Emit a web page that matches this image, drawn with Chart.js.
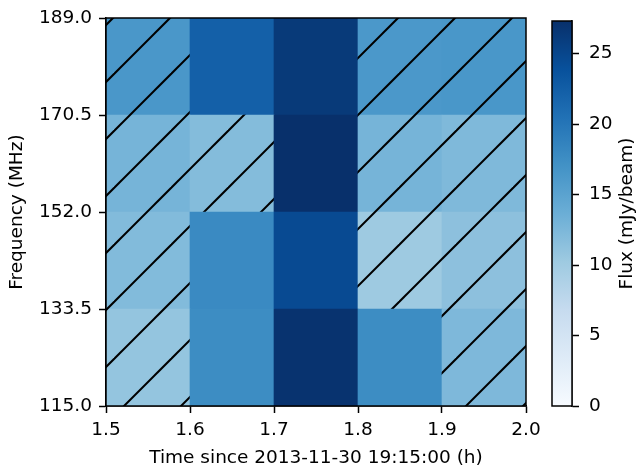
<!DOCTYPE html>
<html>
<head>
<meta charset="utf-8">
<script src="https://cdn.jsdelivr.net/npm/chart.js@4"></script>
<style>
  html, body { margin: 0; padding: 0; background: #fff; }
  #wrap { position: relative; width: 638px; height: 471px; }
  #wrap canvas { position: absolute; left: 0; top: 0; }
</style>
</head>
<body>
<div id="wrap">
  <canvas id="heatmap" width="638" height="471"></canvas>
  <canvas id="colorbar" width="638" height="471"></canvas>
</div>
<script>
// bin edges
var timeEdges = [1.5, 1.6, 1.7, 1.8, 1.9, 2.0];
var freqEdges = [115.0, 133.5, 152.0, 170.5, 189.0];

// flux per frequency bin (bottom to top), one value per time bin
var flux115 = [10.9, 17.6, 27.0, 17.6, 12.4];
var flux133 = [12.1, 17.9, 24.6, 10.2, 11.4];
var flux152 = [12.9, 12.0, 27.3, 12.9, 12.3];
var flux170 = [16.4, 22.3, 26.3, 16.3, 16.5];
var fluxRows = [flux115, flux133, flux152, flux170];

// hatched cells (1 = hatched)
var hatch115 = [1, 0, 0, 0, 1];
var hatch133 = [1, 0, 0, 1, 1];
var hatch152 = [1, 1, 0, 1, 1];
var hatch170 = [1, 0, 0, 1, 1];
var hatchRows = [hatch115, hatch133, hatch152, hatch170];

var fluxMin = 0;
var fluxMax = 27.3;
var fluxTicks = [0, 5, 10, 15, 20, 25];

var fontSize = 18.5;
Chart.defaults.font.family = "'DejaVu Sans', sans-serif";
Chart.defaults.font.size = fontSize;
Chart.defaults.color = '#000';

// matplotlib "Blues"
var bluesStops = ['#f7fbff', '#deebf7', '#c6dbef', '#9ecae1', '#6baed6', '#4292c6', '#2171b5', '#08519c', '#08306b'];

function hexRgb(h) {
  return [parseInt(h.substr(1, 2), 16), parseInt(h.substr(3, 2), 16), parseInt(h.substr(5, 2), 16)];
}

function blues(v) {
  var t = (v - fluxMin) / (fluxMax - fluxMin);
  t = Math.max(0, Math.min(1, t));
  var p = t * (bluesStops.length - 1);
  var i = Math.min(Math.floor(p), bluesStops.length - 2);
  var f = p - i;
  var a = hexRgb(bluesStops[i]), b = hexRgb(bluesStops[i + 1]);
  var c = a.map(function (x, k) { return Math.round(x + (b[k] - x) * f); });
  return 'rgb(' + c.join(',') + ')';
}

// fill + "/" hatching, the pattern is anchored to the canvas origin so lines run on across cells
function hatchFill(color) {
  var s = 57;
  var c = document.createElement('canvas');
  c.width = s; c.height = s;
  var g = c.getContext('2d');
  g.fillStyle = color;
  g.fillRect(0, 0, s, s);
  g.strokeStyle = '#000';
  g.lineWidth = 2;
  [17, 74].forEach(function (k) {
    g.beginPath();
    g.moveTo(k + 10, -10);
    g.lineTo(-10, k + 10);
    g.stroke();
  });
  return g.createPattern(c, 'repeat');
}

var datasets = fluxRows.map(function (row, r) {
  return {
    data: row.map(function (v, c) {
      return { x: (timeEdges[c] + timeEdges[c + 1]) / 2, y: [freqEdges[r], freqEdges[r + 1]] };
    }),
    backgroundColor: row.map(function (v, c) {
      return hatchRows[r][c] ? hatchFill(blues(v)) : blues(v);
    }),
    borderWidth: 0,
    barPercentage: 1,
    categoryPercentage: 1,
    grouped: false
  };
});

var frameBox = {
  id: 'frameBox',
  afterDraw: function (chart) {
    var a = chart.chartArea, ctx = chart.ctx;
    ctx.save();
    ctx.strokeStyle = '#000';
    ctx.lineWidth = 1.5;
    ctx.strokeRect(Math.round(a.left), Math.round(a.top),
      Math.round(a.right - a.left), Math.round(a.bottom - a.top));
    ctx.restore();
  }
};

var axisTicks = { display: true, drawOnChartArea: false, drawTicks: true, tickLength: 7, tickColor: '#000', tickWidth: 1.5 };

new Chart(document.getElementById('heatmap'), {
  type: 'bar',
  data: { datasets: datasets },
  plugins: [frameBox],
  options: {
    responsive: false,
    animation: false,
    layout: { padding: { left: 0, right: 112, top: 16, bottom: 0 } },
    plugins: { legend: { display: false }, tooltip: { enabled: false } },
    scales: {
      x: {
        type: 'linear',
        offset: false,
        min: timeEdges[0],
        max: timeEdges[timeEdges.length - 1],
        afterBuildTicks: function (s) { s.ticks = timeEdges.map(function (v) { return { value: v }; }); },
        afterFit: function (s) { s.height = 65; },
        ticks: { maxRotation: 0, autoSkip: false, padding: 6, callback: function (v) { return Number(v).toFixed(1); } },
        grid: Object.assign({ offset: false }, axisTicks),
        border: { display: true, color: '#000', width: 1.5 },
        title: { display: true, text: 'Time since 2013-11-30 19:15:00 (h)', padding: { top: 0, bottom: 2 } }
      },
      y: {
        type: 'linear',
        min: freqEdges[0],
        max: freqEdges[freqEdges.length - 1],
        afterBuildTicks: function (s) { s.ticks = freqEdges.map(function (v) { return { value: v }; }); },
        afterFit: function (s) { s.width = 106; },
        ticks: { padding: 7, callback: function (v) { return Number(v).toFixed(1); } },
        grid: axisTicks,
        border: { display: true, color: '#000', width: 1.5 },
        title: { display: true, text: 'Frequency (MHz)', padding: { top: 6, bottom: 0 } }
      }
    }
  }
});

// colour bar
var cbTitle = {
  id: 'cbTitle',
  afterDraw: function (chart) {
    var s = chart.scales.y, ctx = chart.ctx;
    ctx.save();
    ctx.fillStyle = '#000';
    ctx.font = fontSize + "px 'DejaVu Sans', sans-serif";
    ctx.textAlign = 'center';
    ctx.textBaseline = 'middle';
    ctx.translate(s.right - 11, (s.top + s.bottom) / 2);
    ctx.rotate(-Math.PI / 2);
    ctx.fillText('Flux (mJy/beam)', 0, 0);
    ctx.restore();
  }
};

new Chart(document.getElementById('colorbar'), {
  type: 'bar',
  data: {
    labels: ['flux'],
    datasets: [{
      data: [[fluxMin, fluxMax]],
      borderWidth: 0,
      barPercentage: 1,
      categoryPercentage: 1,
      backgroundColor: function (ctx) {
        var y = ctx.chart.scales.y;
        var y0 = y ? y.getPixelForValue(fluxMin) : NaN;
        var y1 = y ? y.getPixelForValue(fluxMax) : NaN;
        if (!isFinite(y0) || !isFinite(y1)) return bluesStops[4];
        var g = ctx.chart.ctx.createLinearGradient(0, y0, 0, y1);
        bluesStops.forEach(function (col, i) { g.addColorStop(i / (bluesStops.length - 1), col); });
        return g;
      }
    }]
  },
  plugins: [frameBox, cbTitle],
  options: {
    responsive: false,
    animation: false,
    events: [],
    layout: { padding: { left: 552, right: 0, top: 16, bottom: 65 } },
    plugins: { legend: { display: false }, tooltip: { enabled: false } },
    scales: {
      x: { display: false },
      y: {
        position: 'right',
        min: fluxMin,
        max: fluxMax,
        afterBuildTicks: function (s) { s.ticks = fluxTicks.map(function (v) { return { value: v }; }); },
        afterFit: function (s) { s.width = 66; },
        ticks: { padding: 10 },
        grid: axisTicks,
        border: { display: true, color: '#000', width: 1.5 }
      }
    }
  }
});
</script>
</body>
</html>
